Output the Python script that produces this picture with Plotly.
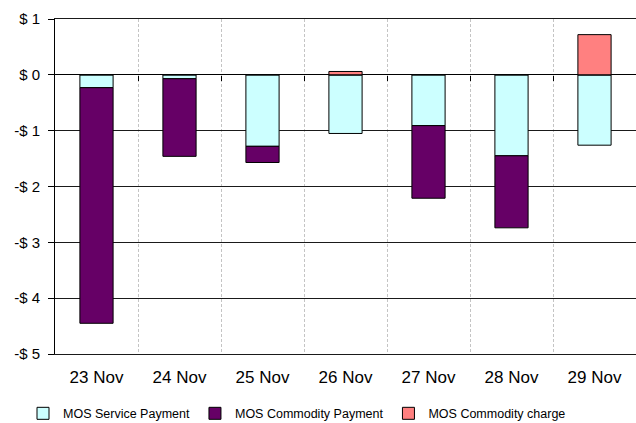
import plotly.graph_objects as go

categories = ["23 Nov", "24 Nov", "25 Nov", "26 Nov", "27 Nov", "28 Nov", "29 Nov"]
service_payment = [-0.23, -0.07, -1.28, -1.05, -0.91, -1.45, -1.26]
commodity_payment = [-4.22, -1.39, -0.29, 0.0, -1.30, -1.29, 0.0]
commodity_charge = [0.0, 0.0, 0.0, 0.06, 0.0, 0.0, 0.72]

y_ticks = [1, 0, -1, -2, -3, -4, -5]
y_tick_labels = ["$ 1", "$ 0", "-$ 1", "-$ 2", "-$ 3", "-$ 4", "-$ 5"]

FONT = "Liberation Sans, Arial, sans-serif"

fig = go.Figure()
series = [
    ("MOS Service Payment", service_payment, "#CCFFFF"),
    ("MOS Commodity Payment", commodity_payment, "#660066"),
    ("MOS Commodity charge", commodity_charge, "#FF8080"),
]
for name, vals, col in series:
    fig.add_trace(go.Bar(
        x=categories, y=vals, name=name,
        marker=dict(color=col, line=dict(color="#000000", width=1)),
    ))

boundaries = [i + 0.5 for i in range(len(categories))]

# empty helper trace so that the zero-line tick axis (x2) is rendered
fig.add_trace(go.Scatter(x=[], y=[], xaxis="x2", showlegend=False, hoverinfo="skip"))

fig.update_layout(
    width=636, height=423,
    margin=dict(l=55, r=0, t=19, b=69),
    paper_bgcolor="white", plot_bgcolor="white",
    barmode="relative", bargap=0.6,
    font=dict(family=FONT, color="#000000"),
    showlegend=True,
    legend=dict(
        orientation="h", xref="container", yref="container",
        x=0.467, xanchor="center", y=0.022, yanchor="middle",
        font=dict(size=12.5, family=FONT), itemwidth=30,
        traceorder="normal",
    ),
    xaxis=dict(
        type="category", range=[-0.5, 6.5], automargin=False,
        tickson="boundaries", ticks="",
        showgrid=True, gridcolor="#c4c4c4", griddash="3px,2px", gridwidth=1,
        showline=True, linecolor="#1a1a1a", linewidth=1, mirror=True,
        tickfont=dict(size=17, family=FONT),
        ticklabelstandoff=8,
    ),
    xaxis2=dict(
        overlaying="x", anchor="free", position=5/6,
        range=[-0.5, 6.5], tickvals=boundaries, ticks="outside",
        ticklen=5, tickwidth=1, tickcolor="#000000", showticklabels=False,
        showgrid=False, showline=False,
        zeroline=False, automargin=False,
    ),
    yaxis=dict(
        range=[-5, 1], tickvals=y_ticks, ticktext=y_tick_labels,
        ticks="outside", ticklen=6, tickcolor="#000000", automargin=False,
        showline=True, linecolor="#000000", linewidth=1,
        showgrid=True, gridcolor="#1a1a1a", gridwidth=1,
        zeroline=True, zerolinecolor="#000000", zerolinewidth=1,
        tickfont=dict(size=15, family=FONT),
        ticklabelstandoff=5,
    ),
)

fig.write_html(
    "out.html",
    config={"displayModeBar": False},
    post_script="document.body.style.margin='0';document.body.style.overflow='hidden';",
)
